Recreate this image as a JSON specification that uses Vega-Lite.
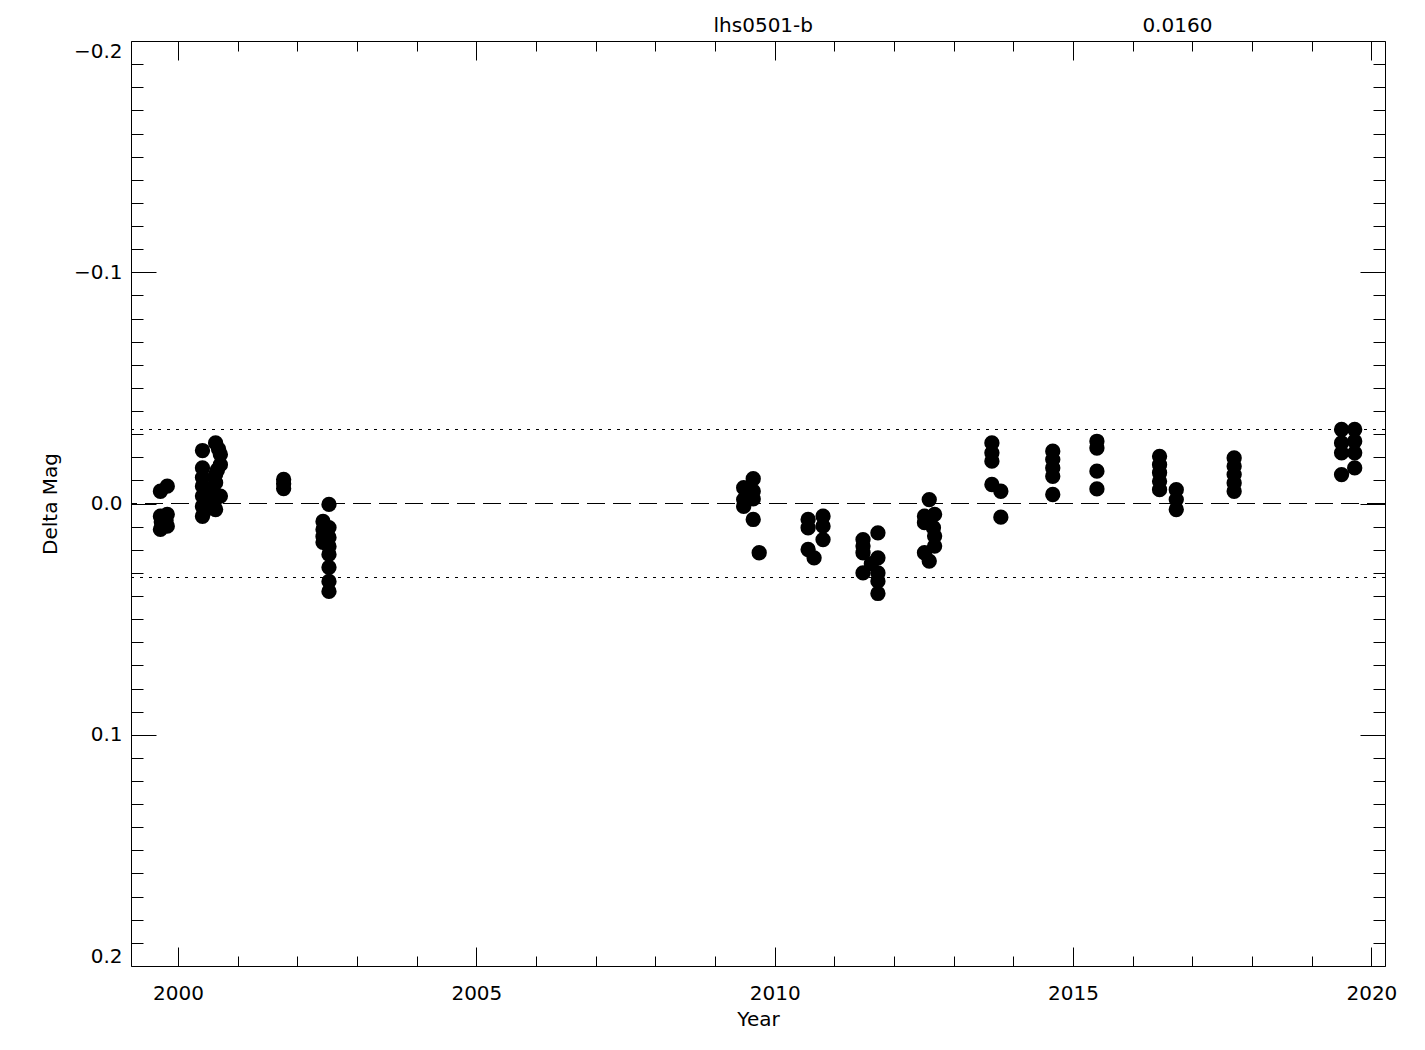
{
  "$schema": "https://vega.github.io/schema/vega-lite/v6.json",
  "width": 1254,
  "height": 925,
  "autosize": {"type": "none"},
  "padding": {"left": 131, "top": 41, "right": 40, "bottom": 84},
  "background": "white",
  "config": {
    "view": {"stroke": "black", "strokeWidth": 1},
    "axis": {
      "grid": false,
      "domain": false,
      "labelFont": "DejaVu Sans",
      "labelFontSize": 20,
      "labelColor": "black",
      "titleFont": "DejaVu Sans",
      "titleFontSize": 20,
      "titleFontWeight": "normal",
      "titleColor": "black",
      "tickColor": "black",
      "tickWidth": 1,
      "labelOverlap": false,
      "labelBound": false
    }
  },
  "datasets": {
    "obs": [
      {"year": 1999.705, "mag": -0.0053},
      {"year": 1999.82, "mag": -0.0075},
      {"year": 1999.705, "mag": 0.0055},
      {"year": 1999.705, "mag": 0.0112},
      {"year": 1999.82, "mag": 0.0047},
      {"year": 1999.82, "mag": 0.0098},
      {"year": 1999.72, "mag": 0.008},
      {"year": 1999.8, "mag": 0.0072},
      {"year": 2000.41, "mag": -0.0229},
      {"year": 2000.41, "mag": -0.0154},
      {"year": 2000.41, "mag": -0.0112},
      {"year": 2000.41, "mag": -0.0075},
      {"year": 2000.41, "mag": -0.0032},
      {"year": 2000.41, "mag": 0.0012},
      {"year": 2000.41, "mag": 0.0055},
      {"year": 2000.44, "mag": 0.0035},
      {"year": 2000.63, "mag": -0.0262},
      {"year": 2000.71, "mag": -0.0212},
      {"year": 2000.71, "mag": -0.0168},
      {"year": 2000.63, "mag": -0.0125},
      {"year": 2000.71, "mag": -0.0032},
      {"year": 2000.63, "mag": -0.009},
      {"year": 2000.63, "mag": 0.0026},
      {"year": 2000.6, "mag": -0.005},
      {"year": 2000.6, "mag": 0.0},
      {"year": 2000.66, "mag": -0.0145},
      {"year": 2000.68, "mag": -0.0235},
      {"year": 2001.77, "mag": -0.0104},
      {"year": 2001.77, "mag": -0.0085},
      {"year": 2001.77, "mag": -0.0065},
      {"year": 2002.53, "mag": 0.0004},
      {"year": 2002.43, "mag": 0.0078},
      {"year": 2002.43, "mag": 0.0112},
      {"year": 2002.43, "mag": 0.0143},
      {"year": 2002.43, "mag": 0.0168},
      {"year": 2002.53, "mag": 0.0104},
      {"year": 2002.53, "mag": 0.0147},
      {"year": 2002.53, "mag": 0.0186},
      {"year": 2002.53, "mag": 0.022},
      {"year": 2002.53, "mag": 0.0276},
      {"year": 2002.53, "mag": 0.0337},
      {"year": 2002.53, "mag": 0.038},
      {"year": 2009.48, "mag": -0.0068},
      {"year": 2009.48, "mag": -0.0017},
      {"year": 2009.48, "mag": 0.0012},
      {"year": 2009.64, "mag": -0.0107},
      {"year": 2009.64, "mag": -0.0053},
      {"year": 2009.64, "mag": -0.002},
      {"year": 2009.64, "mag": 0.0069},
      {"year": 2009.74, "mag": 0.0213},
      {"year": 2010.56, "mag": 0.0069},
      {"year": 2010.56, "mag": 0.0105},
      {"year": 2010.56, "mag": 0.0199},
      {"year": 2010.66, "mag": 0.0235},
      {"year": 2010.81, "mag": 0.0055},
      {"year": 2010.81, "mag": 0.0098},
      {"year": 2010.81, "mag": 0.0156},
      {"year": 2011.48, "mag": 0.0156},
      {"year": 2011.48, "mag": 0.0184},
      {"year": 2011.48, "mag": 0.0213},
      {"year": 2011.48, "mag": 0.03},
      {"year": 2011.73, "mag": 0.0127},
      {"year": 2011.73, "mag": 0.0235},
      {"year": 2011.73, "mag": 0.03},
      {"year": 2011.73, "mag": 0.0336},
      {"year": 2011.73, "mag": 0.0389},
      {"year": 2011.62, "mag": 0.026},
      {"year": 2012.59, "mag": -0.0017},
      {"year": 2012.51, "mag": 0.0055},
      {"year": 2012.51, "mag": 0.0083},
      {"year": 2012.51, "mag": 0.0213},
      {"year": 2012.68, "mag": 0.0047},
      {"year": 2012.68, "mag": 0.0141},
      {"year": 2012.68, "mag": 0.0184},
      {"year": 2012.59, "mag": 0.0249},
      {"year": 2012.66, "mag": 0.0105},
      {"year": 2013.64, "mag": -0.0262},
      {"year": 2013.64, "mag": -0.0219},
      {"year": 2013.64, "mag": -0.0183},
      {"year": 2013.64, "mag": -0.0082},
      {"year": 2013.79, "mag": -0.0053},
      {"year": 2013.79, "mag": 0.0059},
      {"year": 2014.66, "mag": -0.0226},
      {"year": 2014.66, "mag": -0.019},
      {"year": 2014.66, "mag": -0.0154},
      {"year": 2014.66, "mag": -0.0118},
      {"year": 2014.66, "mag": -0.0039},
      {"year": 2015.4, "mag": -0.0269},
      {"year": 2015.4, "mag": -0.024},
      {"year": 2015.4, "mag": -0.014},
      {"year": 2015.4, "mag": -0.0063},
      {"year": 2016.45, "mag": -0.0204},
      {"year": 2016.45, "mag": -0.0168},
      {"year": 2016.45, "mag": -0.0133},
      {"year": 2016.45, "mag": -0.0096},
      {"year": 2016.45, "mag": -0.006},
      {"year": 2016.73, "mag": -0.006},
      {"year": 2016.73, "mag": -0.0017},
      {"year": 2016.73, "mag": 0.0026},
      {"year": 2017.7, "mag": -0.0197},
      {"year": 2017.7, "mag": -0.0161},
      {"year": 2017.7, "mag": -0.0125},
      {"year": 2017.7, "mag": -0.0089},
      {"year": 2017.7, "mag": -0.0053},
      {"year": 2019.5, "mag": -0.032},
      {"year": 2019.5, "mag": -0.0262},
      {"year": 2019.5, "mag": -0.0219},
      {"year": 2019.5, "mag": -0.0125},
      {"year": 2019.72, "mag": -0.032},
      {"year": 2019.72, "mag": -0.0269},
      {"year": 2019.72, "mag": -0.0219},
      {"year": 2019.72, "mag": -0.0154}
    ],
    "zero": [{"level": 0}],
    "limits": [{"level": -0.032}, {"level": 0.032}]
  },
  "resolve": {"axis": {"x": "independent", "y": "independent"}},
  "layer": [
    {
      "data": {"name": "zero"},
      "mark": {"type": "rule", "color": "black", "strokeWidth": 1, "strokeDash": [18, 8]},
      "encoding": {
        "y": {"field": "level", "type": "quantitative", "axis": null,
              "scale": {"domain": [-0.2, 0.2], "reverse": true, "nice": false, "zero": false}}
      }
    },
    {
      "data": {"name": "limits"},
      "mark": {"type": "rule", "color": "black", "strokeWidth": 1, "strokeDash": [3, 6]},
      "encoding": {
        "y": {"field": "level", "type": "quantitative", "axis": null}
      }
    },
    {
      "data": {"name": "obs"},
      "mark": {"type": "circle", "color": "black", "opacity": 1, "size": 235},
      "encoding": {
        "x": {"field": "year", "type": "quantitative",
              "scale": {"domain": [1999.212, 2020.228], "nice": false, "zero": false},
              "axis": {"orient": "bottom", "values": [2000, 2005, 2010, 2015, 2020], "format": "d",
                       "ticks": false, "labelBaseline": "alphabetic", "labelPadding": 33,
                       "title": "Year", "titleBaseline": "alphabetic", "titleY": 59}},
        "y": {"field": "mag", "type": "quantitative",
              "scale": {"domain": [-0.2, 0.2], "reverse": true, "nice": false, "zero": false},
              "axis": {"orient": "left", "values": [-0.2, -0.1, 0, 0.1, 0.2], "format": ".1f",
                       "ticks": false, "labelPadding": 9, "labelFlush": true, "labelFlushOffset": 0,
                       "title": "Delta Mag", "titleBaseline": "alphabetic", "titleX": -75, "titleY": 462.5}}
      }
    },
    {
      "data": {"name": "obs"},
      "mark": {"type": "point", "opacity": 0},
      "encoding": {
        "x": {"field": "year", "type": "quantitative",
              "axis": {"orient": "bottom", "values": [2000, 2005, 2010, 2015, 2020], "labels": false,
                       "tickSize": -19, "title": null}},
        "y": {"field": "mag", "type": "quantitative",
              "axis": {"orient": "left", "values": [-0.2, -0.1, 0, 0.1, 0.2], "labels": false,
                       "tickSize": -25, "title": null}}
      }
    },
    {
      "data": {"name": "obs"},
      "mark": {"type": "point", "opacity": 0},
      "encoding": {
        "x": {"field": "year", "type": "quantitative",
              "axis": {"orient": "bottom", "values": [2000, 2001, 2002, 2003, 2004, 2005, 2006, 2007, 2008, 2009, 2010, 2011, 2012, 2013, 2014, 2015, 2016, 2017, 2018, 2019, 2020],
                       "labels": false, "tickSize": -10, "title": null}},
        "y": {"field": "mag", "type": "quantitative",
              "axis": {"orient": "left", "values": [-0.19, -0.18, -0.17, -0.16, -0.15, -0.14, -0.13, -0.12, -0.11, -0.09, -0.08, -0.07, -0.06, -0.05, -0.04, -0.03, -0.02, -0.01, 0.01, 0.02, 0.03, 0.04, 0.05, 0.06, 0.07, 0.08, 0.09, 0.11, 0.12, 0.13, 0.14, 0.15, 0.16, 0.17, 0.18, 0.19],
                       "labels": false, "tickSize": -12, "title": null}}
      }
    },
    {
      "data": {"name": "obs"},
      "mark": {"type": "point", "opacity": 0},
      "encoding": {
        "x": {"field": "year", "type": "quantitative",
              "axis": {"orient": "top", "values": [2000, 2005, 2010, 2015, 2020], "labels": false,
                       "tickSize": -19, "title": null}},
        "y": {"field": "mag", "type": "quantitative",
              "axis": {"orient": "right", "values": [-0.2, -0.1, 0, 0.1, 0.2], "labels": false,
                       "tickSize": -25, "title": null}}
      }
    },
    {
      "data": {"name": "obs"},
      "mark": {"type": "point", "opacity": 0},
      "encoding": {
        "x": {"field": "year", "type": "quantitative",
              "axis": {"orient": "top", "values": [2000, 2001, 2002, 2003, 2004, 2005, 2006, 2007, 2008, 2009, 2010, 2011, 2012, 2013, 2014, 2015, 2016, 2017, 2018, 2019, 2020],
                       "labels": false, "tickSize": -10, "title": null}},
        "y": {"field": "mag", "type": "quantitative",
              "axis": {"orient": "right", "values": [-0.19, -0.18, -0.17, -0.16, -0.15, -0.14, -0.13, -0.12, -0.11, -0.09, -0.08, -0.07, -0.06, -0.05, -0.04, -0.03, -0.02, -0.01, 0.01, 0.02, 0.03, 0.04, 0.05, 0.06, 0.07, 0.08, 0.09, 0.11, 0.12, 0.13, 0.14, 0.15, 0.16, 0.17, 0.18, 0.19],
                       "labels": false, "tickSize": -12, "title": null}}
      }
    },
    {
      "data": {"name": "obs"},
      "mark": {"type": "point", "opacity": 0},
      "encoding": {
        "x": {"field": "year", "type": "quantitative",
              "axis": {"orient": "top", "values": [2009.8, 2016.74], "ticks": false,
                       "labelExpr": "datum.value < 2013 ? 'lhs0501-b' : '0.0160'",
                       "labelBaseline": "alphabetic", "labelPadding": 10, "title": null}},
        "y": {"field": "mag", "type": "quantitative", "axis": null}
      }
    }
  ]
}
